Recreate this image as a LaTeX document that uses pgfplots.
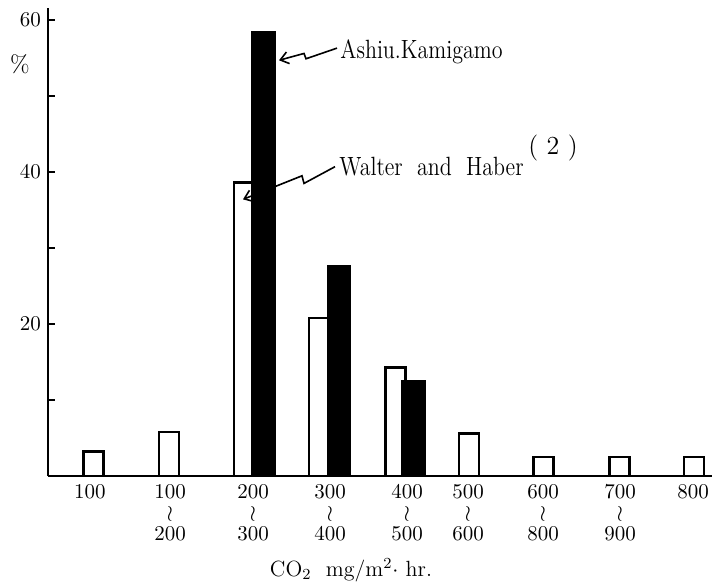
\documentclass[border=0pt]{standalone}
\usepackage{pgfplots}
\pgfplotsset{compat=1.18}
\usetikzlibrary{arrows.meta}
\begin{document}
\begin{tikzpicture}
\path[use as bounding box] (-24pt,-54pt) rectangle (337.5pt,238pt);
\begin{axis}[
  at={(0pt,0pt)}, anchor=south west,
  scale only axis, width=332pt, height=234pt,
  xmin=48, xmax=712, ymin=0, ymax=61.58,
  axis lines=left, axis line style={line width=1.3pt,-},
  clip=false,
  ytick={10,20,30,40,50,60}, yticklabels={,20,,40,,60},
  tick align=inside, major tick length=3.5pt,
  y tick style={line width=1.2pt, black},
  xtick={90,170,253,330,407,468,543,620,693},
  xticklabels={100,{100\\$\wr$\\200},{200\\$\wr$\\300},{300\\$\wr$\\400},{400\\$\wr$\\500},{500\\$\wr$\\600},{600\\$\wr$\\800},{700\\$\wr$\\900},800},
  x tick style={draw=none},
  xticklabel style={align=center, font=\fontsize{10.5}{10.6}\selectfont, yshift=-0.5pt},
  yticklabel style={font=\fontsize{10.5}{10.5}\selectfont},
]
% Walter and Haber (open bars)
\addplot[ybar, bar width=20, bar shift=0pt, fill=white, draw=black, line width=1.2pt]
  coordinates {(93.5,3.2) (169,5.8) (244,38.6) (319,20.8) (395.5,14.3) (469,5.6) (543.5,2.5) (619.5,2.5) (694,2.5)};
% Ashiu, Kamigamo (black bars)
\addplot[ybar, bar width=23, bar shift=0pt, fill=black, draw=black, line width=0.6pt]
  coordinates {(263.5,58.5) (339,27.7) (413.5,12.6)};

\draw[line width=0.8pt, -{Straight Barb[length=4pt,width=6pt]}]
  (axis cs:337,56.3) -- (axis cs:306,54.9) -- (axis cs:304,55.6) -- (axis cs:279,54.7);
\draw[line width=0.8pt, -{Straight Barb[length=4pt,width=6pt]}]
  (axis cs:335,40.7) -- (axis cs:304,38.5) -- (axis cs:302,39.5) -- (axis cs:243,36.4);

\node[anchor=west, inner sep=1pt, font=\fontsize{11}{11}\selectfont] at (axis cs:338,55.8) {\scalebox{1}[1.2]{Ashiu.Kamigamo}};
\node[anchor=west, inner sep=1pt, font=\fontsize{11}{11}\selectfont] at (axis cs:337,40.7) {\scalebox{1}[1.2]{Walter \ and \ Haber}};
\node[font=\fontsize{13}{13}\selectfont] at (axis cs:553,43.2) {( 2 )};
\node[font=\fontsize{12}{12}\selectfont] at (axis cs:20,54.2) {\%};
\node[font=\fontsize{11}{11}\selectfont] at (axis cs:351,-12.4) {CO\textsubscript{2} \ mg/m\textsuperscript{2}$\cdot$ hr.};
\end{axis}
\end{tikzpicture}
\end{document}
